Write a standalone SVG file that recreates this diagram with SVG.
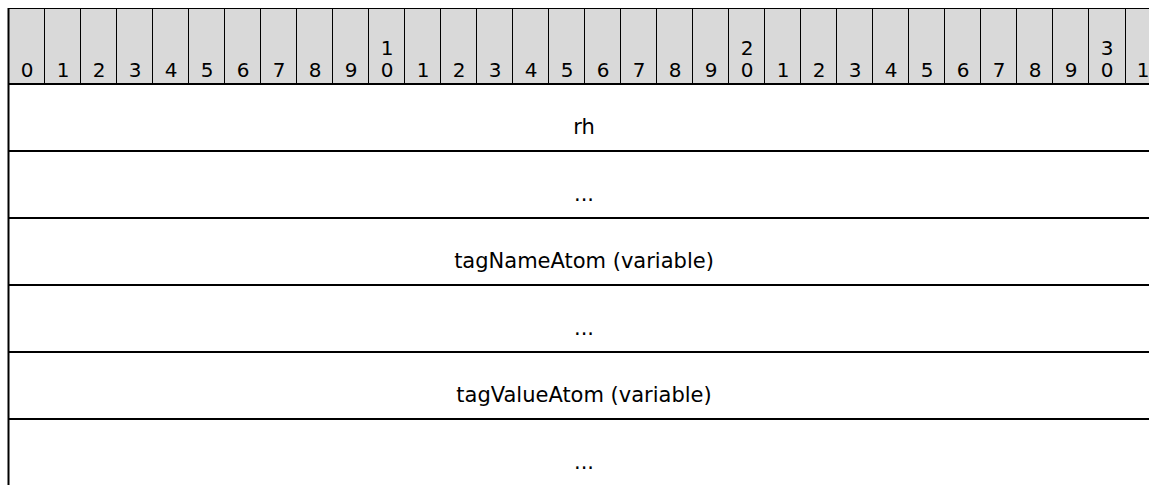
<svg xmlns="http://www.w3.org/2000/svg" width="1149" height="485" viewBox="0 0 1149 485">
<style>
.hd{fill:#d9d9d9;stroke:none}
.cl{stroke:#000;stroke-width:1}
.rl{stroke:#000;stroke-width:2}
.n{font-family:"DejaVu Sans",Verdana,sans-serif;font-size:20px;fill:#000;text-anchor:middle}
.t{font-family:"DejaVu Sans",Verdana,sans-serif;font-size:21px;fill:#000;text-anchor:middle}
</style>
<rect x="0" y="0" width="1149" height="485" fill="#fff"/>
<g id="header">
<rect class="hd" x="8.5" y="8.5" width="1141" height="75.5"/>
<line class="cl" x1="8" y1="8.5" x2="1149" y2="8.5"/>
<g id="cols">
<line class="cl" x1="44.5" y1="8" x2="44.5" y2="84"/>
<line class="cl" x1="80.5" y1="8" x2="80.5" y2="84"/>
<line class="cl" x1="116.5" y1="8" x2="116.5" y2="84"/>
<line class="cl" x1="152.5" y1="8" x2="152.5" y2="84"/>
<line class="cl" x1="188.5" y1="8" x2="188.5" y2="84"/>
<line class="cl" x1="224.5" y1="8" x2="224.5" y2="84"/>
<line class="cl" x1="260.5" y1="8" x2="260.5" y2="84"/>
<line class="cl" x1="296.5" y1="8" x2="296.5" y2="84"/>
<line class="cl" x1="332.5" y1="8" x2="332.5" y2="84"/>
<line class="cl" x1="368.5" y1="8" x2="368.5" y2="84"/>
<line class="cl" x1="404.5" y1="8" x2="404.5" y2="84"/>
<line class="cl" x1="440.5" y1="8" x2="440.5" y2="84"/>
<line class="cl" x1="476.5" y1="8" x2="476.5" y2="84"/>
<line class="cl" x1="512.5" y1="8" x2="512.5" y2="84"/>
<line class="cl" x1="548.5" y1="8" x2="548.5" y2="84"/>
<line class="cl" x1="584.5" y1="8" x2="584.5" y2="84"/>
<line class="cl" x1="620.5" y1="8" x2="620.5" y2="84"/>
<line class="cl" x1="656.5" y1="8" x2="656.5" y2="84"/>
<line class="cl" x1="692.5" y1="8" x2="692.5" y2="84"/>
<line class="cl" x1="728.5" y1="8" x2="728.5" y2="84"/>
<line class="cl" x1="764.5" y1="8" x2="764.5" y2="84"/>
<line class="cl" x1="800.5" y1="8" x2="800.5" y2="84"/>
<line class="cl" x1="836.5" y1="8" x2="836.5" y2="84"/>
<line class="cl" x1="872.5" y1="8" x2="872.5" y2="84"/>
<line class="cl" x1="908.5" y1="8" x2="908.5" y2="84"/>
<line class="cl" x1="944.5" y1="8" x2="944.5" y2="84"/>
<line class="cl" x1="980.5" y1="8" x2="980.5" y2="84"/>
<line class="cl" x1="1016.5" y1="8" x2="1016.5" y2="84"/>
<line class="cl" x1="1052.5" y1="8" x2="1052.5" y2="84"/>
<line class="cl" x1="1088.5" y1="8" x2="1088.5" y2="84"/>
<line class="cl" x1="1125.5" y1="8" x2="1125.5" y2="84"/>
</g>
<g id="nums">
<text class="n" x="27" y="77">0</text>
<text class="n" x="63" y="77">1</text>
<text class="n" x="99" y="77">2</text>
<text class="n" x="135" y="77">3</text>
<text class="n" x="171" y="77">4</text>
<text class="n" x="207" y="77">5</text>
<text class="n" x="243" y="77">6</text>
<text class="n" x="279" y="77">7</text>
<text class="n" x="315" y="77">8</text>
<text class="n" x="351" y="77">9</text>
<text class="n" x="387" y="55">1</text>
<text class="n" x="387" y="77">0</text>
<text class="n" x="423" y="77">1</text>
<text class="n" x="459" y="77">2</text>
<text class="n" x="495" y="77">3</text>
<text class="n" x="531" y="77">4</text>
<text class="n" x="567" y="77">5</text>
<text class="n" x="603" y="77">6</text>
<text class="n" x="639" y="77">7</text>
<text class="n" x="675" y="77">8</text>
<text class="n" x="711" y="77">9</text>
<text class="n" x="747" y="55">2</text>
<text class="n" x="747" y="77">0</text>
<text class="n" x="783" y="77">1</text>
<text class="n" x="819" y="77">2</text>
<text class="n" x="855" y="77">3</text>
<text class="n" x="891" y="77">4</text>
<text class="n" x="927" y="77">5</text>
<text class="n" x="963" y="77">6</text>
<text class="n" x="999" y="77">7</text>
<text class="n" x="1035" y="77">8</text>
<text class="n" x="1071" y="77">9</text>
<text class="n" x="1107" y="55">3</text>
<text class="n" x="1107" y="77">0</text>
<text class="n" x="1143" y="77">1</text>
</g>
</g>
<g id="rows">
<line class="rl" x1="8" y1="84" x2="1149" y2="84"/>
<line class="rl" x1="8" y1="151" x2="1149" y2="151"/>
<line class="rl" x1="8" y1="218" x2="1149" y2="218"/>
<line class="rl" x1="8" y1="285" x2="1149" y2="285"/>
<line class="rl" x1="8" y1="352" x2="1149" y2="352"/>
<line class="rl" x1="8" y1="419" x2="1149" y2="419"/>
<line class="rl" x1="8.5" y1="8" x2="8.5" y2="485"/>
</g>
<g id="row-rh"><text class="t" x="584" y="134">rh</text></g>
<g id="row-dots1"><text class="t" x="584" y="201">...</text></g>
<g id="row-tagNameAtom"><text class="t" x="584" y="268">tagNameAtom (variable)</text></g>
<g id="row-dots2"><text class="t" x="584" y="335">...</text></g>
<g id="row-tagValueAtom"><text class="t" x="584" y="402">tagValueAtom (variable)</text></g>
<g id="row-dots3"><text class="t" x="584" y="469">...</text></g>
</svg>
